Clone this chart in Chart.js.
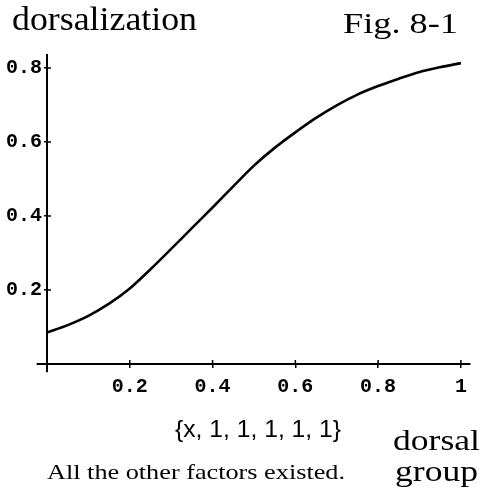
<!DOCTYPE html>
<html>
<head>
<meta charset="utf-8">
<script src="https://cdn.jsdelivr.net/npm/chart.js@4"></script>
<style>
  html, body { margin: 0; padding: 0; background: #fff; }
  #wrap { width: 484px; height: 492px; position: relative; }
</style>
</head>
<body>
<div id="wrap"><canvas id="c" width="484" height="492"></canvas></div>
<script>
// ---- data ----
const xValues = [0, 0.05, 0.10, 0.15, 0.20, 0.25, 0.30, 0.35, 0.40, 0.45, 0.50,
                 0.55, 0.60, 0.65, 0.70, 0.75, 0.80, 0.85, 0.90, 0.95, 1.00];
const dorsalization = [0.085, 0.105, 0.130, 0.163, 0.204, 0.256, 0.311, 0.367, 0.423, 0.480, 0.536,
                       0.584, 0.626, 0.665, 0.699, 0.728, 0.751, 0.771, 0.789, 0.802, 0.813];
const xTicks = [0.2, 0.4, 0.6, 0.8, 1];
const yTicks = [0.2, 0.4, 0.6, 0.8];
const xTickLabels = ['0.2', '0.4', '0.6', '0.8', '1'];
const yTickLabels = ['0.2', '0.4', '0.6', '0.8'];
const yAxisTitle = 'dorsalization';
const figLabel = 'Fig. 8-1';
const xCaption = '{x, 1, 1, 1, 1, 1}';
const xAxisTitle = ['dorsal', 'group'];
const note = 'All the other factors existed.';

const points = xValues.map((x, i) => ({ x: x, y: dorsalization[i] }));

function fitText(ctx, text, x, y, font, width) {
  ctx.save();
  ctx.font = font;
  ctx.fillStyle = '#000';
  ctx.textBaseline = 'alphabetic';
  ctx.textAlign = 'left';
  const w = ctx.measureText(text).width;
  ctx.translate(x, y);
  ctx.scale(width / w, 1);
  ctx.fillText(text, 0, 0);
  ctx.restore();
}

const decor = {
  id: 'decor',
  afterDraw(chart) {
    const ctx = chart.ctx;
    const xs = chart.scales.x, ys = chart.scales.y;
    const x0 = xs.getPixelForValue(0), y0 = ys.getPixelForValue(0);
    ctx.save();
    ctx.strokeStyle = '#000';
    ctx.lineWidth = 2;
    ctx.beginPath();
    ctx.moveTo(xs.getPixelForValue(-0.025), y0);
    ctx.lineTo(x0, y0);
    ctx.moveTo(x0, y0);
    ctx.lineTo(x0, ys.getPixelForValue(-0.022));
    ctx.stroke();
    ctx.lineWidth = 1.5;
    ctx.beginPath();
    xTicks.forEach(v => {
      const px = xs.getPixelForValue(v);
      ctx.moveTo(px, y0);
      ctx.lineTo(px, y0 - 4);
    });
    yTicks.forEach(v => {
      const py = ys.getPixelForValue(v);
      ctx.moveTo(x0, py);
      ctx.lineTo(x0 + 4, py);
    });
    ctx.stroke();
    ctx.restore();
    fitText(ctx, yAxisTitle, 12, 30, '34px "Liberation Serif", "Times New Roman", serif', 185);
    fitText(ctx, figLabel, 343, 33, '30px "Liberation Serif", "Times New Roman", serif', 115);
    fitText(ctx, xCaption, 175, 437, '24px "Liberation Sans", Arial, sans-serif', 166);
    fitText(ctx, xAxisTitle[0], 393, 450, '29px "Liberation Serif", "Times New Roman", serif', 87);
    fitText(ctx, xAxisTitle[1], 395, 481, '29px "Liberation Serif", "Times New Roman", serif', 83);
    fitText(ctx, note, 47, 479, '21px "Liberation Serif", "Times New Roman", serif', 298);
  }
};

function draw() {
  new Chart(document.getElementById('c'), {
    type: 'line',
    data: {
      datasets: [{
        data: points,
        borderColor: '#000',
        borderWidth: 2.6,
        pointRadius: 0,
        fill: false,
        tension: 0.3
      }]
    },
    options: {
      responsive: false,
      animation: false,
      events: [],
      layout: { padding: { top: 55, right: 14, left: 0, bottom: 0 } },
      plugins: { legend: { display: false }, tooltip: { enabled: false } },
      scales: {
        x: {
          type: 'linear',
          position: 'bottom',
          min: 0,
          max: 1.022,
          afterBuildTicks: s => { s.ticks = xTicks.map(v => ({ value: v })); },
          afterFit: s => { s.height = 128; },
          border: { display: true, color: '#000', width: 2 },
          grid: { drawOnChartArea: false, drawTicks: true, tickLength: 4, color: '#000', lineWidth: 1.5 },
          ticks: {
            autoSkip: false,
            maxRotation: 0,
            color: '#000',
            padding: 7,
            font: { family: '"Liberation Mono", "Courier New", monospace', size: 20, weight: 'bold' },
            callback: (v) => { const i = xTicks.indexOf(v); return i >= 0 ? xTickLabels[i] : ''; }
          }
        },
        y: {
          type: 'linear',
          position: 'left',
          min: 0,
          max: 0.835,
          afterBuildTicks: s => { s.ticks = yTicks.map(v => ({ value: v })); },
          afterFit: s => { s.width = 47; },
          border: { display: true, color: '#000', width: 2 },
          grid: { drawOnChartArea: false, drawTicks: true, tickLength: 3, color: '#000', lineWidth: 1.5 },
          ticks: {
            autoSkip: false,
            color: '#000',
            padding: 2,
            font: { family: '"Liberation Mono", "Courier New", monospace', size: 20, weight: 'bold' },
            callback: (v) => { const i = yTicks.indexOf(v); return i >= 0 ? yTickLabels[i] : ''; }
          }
        }
      }
    },
    plugins: [decor]
  });
}

const fontSpecs = ['34px "Liberation Serif"', '24px "Liberation Sans"', 'bold 20px "Liberation Mono"'];
if (document.fonts && document.fonts.load) {
  Promise.all(fontSpecs.map(f => document.fonts.load(f).catch(() => null))).then(draw, draw);
} else {
  draw();
}
</script>
</body>
</html>
